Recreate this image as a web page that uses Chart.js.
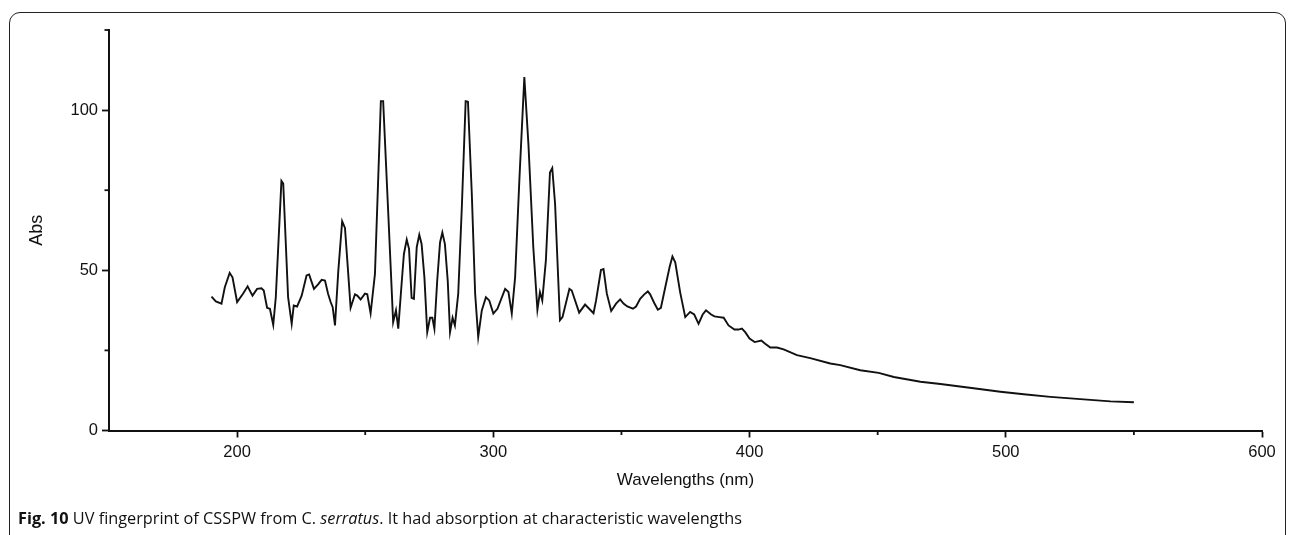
<!DOCTYPE html>
<html><head><meta charset="utf-8">
<script src="https://cdn.jsdelivr.net/npm/chart.js@4.4.1/dist/chart.umd.min.js"></script>
<style>
html,body{margin:0;padding:0;background:#fff;width:1292px;height:535px;overflow:hidden;}
#frame{position:absolute;left:9px;top:12px;width:1277px;height:570px;border:1.5px solid #222;border-radius:11px;box-sizing:border-box;}
#wrap{position:absolute;left:0;top:0;width:1292px;height:535px;}
#caption{position:absolute;left:18px;top:508px;font-family:"Open Sans",sans-serif;font-size:16.3px;color:#111;white-space:nowrap;line-height:21px;}
</style></head><body>
<div id="frame"></div>
<div id="wrap"><canvas id="c" width="1292" height="535"></canvas></div>
<div id="caption"><b>Fig. 10</b> UV fingerprint of CSSPW from C. <i>serratus</i>. It had absorption at characteristic wavelengths</div>
<script>
const wavelengths = [190.0,191.7,193.9,195.2,197.1,198.2,200.0,202.3,204.1,206.0,207.8,209.5,210.4,211.7,212.8,214.1,215.1,217.3,218.0,219.9,221.3,222.1,223.4,225.2,227.1,228.1,230.0,231.6,233.0,234.3,235.5,236.5,237.3,238.2,239.5,241.0,242.1,243.1,244.3,246.0,246.9,248.2,249.9,250.8,252.1,253.8,256.1,257.0,259.0,260.9,262.0,262.9,264.2,265.1,266.2,267.1,268.1,269.0,270.1,271.1,272.0,273.1,274.2,275.3,276.2,277.0,278.1,279.2,280.1,281.1,282.2,283.1,284.1,285.0,286.3,287.7,289.2,290.1,291.6,292.9,294.1,295.5,297.1,298.4,300.0,301.6,304.6,305.9,307.2,308.5,310.2,312.1,313.7,315.6,317.2,318.2,319.1,320.5,322.1,323.0,324.1,326.0,327.0,329.7,330.6,333.5,335.8,339.1,340.1,342.0,343.0,344.3,346.0,347.9,349.5,350.8,352.3,354.5,355.7,357.3,358.9,360.3,361.2,362.8,364.2,365.4,367.1,368.8,369.9,371.0,372.9,374.9,376.8,378.4,380.1,381.7,383.0,385.0,386.3,388.2,389.9,391.8,394.1,395.7,397.0,398.3,400.0,402.0,404.6,406.1,408.1,410.7,413.3,418.5,423.7,431.5,435.4,443.2,450.4,456.3,466.7,474.5,488.2,497.9,507.0,517.4,530.4,540.9,550.0];
const absorbance = [41.8,40.3,39.6,44.7,49.2,47.8,40.1,42.7,45.0,42.1,44.2,44.4,43.7,38.3,38.0,33.0,41.6,77.9,77.1,41.6,33.3,39.0,38.7,42.1,48.4,48.7,44.2,45.6,47.0,46.8,42.7,40.1,38.5,32.8,49.9,65.3,63.2,52.0,38.3,42.5,42.1,40.9,42.7,42.5,36.6,48.9,102.8,102.8,67.6,33.8,37.5,31.8,45.8,55.1,59.6,56.7,41.4,41.1,57.2,61.1,58.2,47.8,30.7,35.2,35.2,31.8,46.8,58.7,61.8,58.2,46.8,30.7,35.2,32.8,42.7,69.6,102.8,102.6,73.8,42.7,29.2,37.5,41.6,40.6,36.5,38.0,44.2,43.2,36.5,47.8,78.9,110.3,89.3,57.2,37.7,43.2,40.6,53.0,80.5,81.9,70.7,34.4,35.4,44.2,43.7,36.8,39.3,36.6,40.6,50.1,50.4,42.7,37.3,39.6,40.9,39.6,38.7,38.0,38.7,41.1,42.5,43.4,42.5,39.8,37.7,38.3,44.7,51.0,54.3,52.5,43.2,35.4,37.0,36.2,33.3,36.2,37.5,36.2,35.6,35.4,35.2,32.8,31.5,31.5,31.8,30.7,28.7,27.6,28.1,27.1,25.9,25.9,25.3,23.5,22.6,20.9,20.4,18.8,18.0,16.7,15.2,14.5,13.1,12.1,11.3,10.5,9.7,9.1,8.8];
const xTickLabels = [200,300,400,500,600];
const yTickLabels = [0,50,100];

const points = wavelengths.map((w,i)=>({x:w, y:absorbance[i]}));
const INK = '#111';
const tickFont = {family:'"Liberation Sans", Arial, sans-serif', size:16.5};
const titleFont = {family:'"Liberation Sans", Arial, sans-serif', size:17};

const minorTicks = {
  id:'minorTicks',
  afterDraw(chart){
    const {ctx, scales:{x,y}} = chart;
    ctx.save(); ctx.strokeStyle=INK; ctx.lineWidth=1.8;
    x.ticks.forEach(t=>{
      if(!xTickLabels.includes(t.value) && t.value!==x.min){
        const px=x.getPixelForValue(t.value);
        ctx.beginPath(); ctx.moveTo(px,x.top); ctx.lineTo(px,x.top+4.5); ctx.stroke();
      }
    });
    y.ticks.forEach(t=>{
      if(!yTickLabels.includes(t.value)){
        const py=y.getPixelForValue(t.value);
        ctx.beginPath(); ctx.moveTo(y.right,py); ctx.lineTo(y.right-4.5,py); ctx.stroke();
      }
    });
    ctx.restore();
  }
};

new Chart(document.getElementById('c'), {
  type:'line',
  data:{datasets:[{data:points, borderColor:INK, borderWidth:1.9, pointRadius:0, tension:0, fill:false}]},
  options:{
    responsive:false, animation:false,
    layout:{padding:{left:0,right:30,top:30,bottom:0}},
    plugins:{legend:{display:false}, tooltip:{enabled:false}},
    scales:{
      x:{type:'linear', min:150, max:600,
        ticks:{stepSize:50, autoSkip:false, maxRotation:0, padding:5, font:tickFont, color:INK,
          callback:v=> xTickLabels.includes(v) ? String(v) : ''},
        grid:{display:true, drawOnChartArea:false, drawTicks:true, tickLength:7, tickWidth:1.8,
          tickColor:c=> (c.tick && xTickLabels.includes(c.tick.value)) ? INK : 'rgba(0,0,0,0)'},
        border:{display:true, color:INK, width:2},
        title:{display:true, text:'Wavelengths (nm)', font:titleFont, color:INK, padding:{top:0,bottom:44}},
        afterFit:s=>{ s.height = 104.5; }
      },
      y:{type:'linear', min:0, max:125,
        ticks:{stepSize:25, autoSkip:false, padding:4, font:tickFont, color:INK,
          callback:v=> yTickLabels.includes(v) ? String(v) : ''},
        grid:{display:true, drawOnChartArea:false, drawTicks:true, tickLength:7, tickWidth:1.8,
          tickColor:c=> (c.tick && yTickLabels.includes(c.tick.value)) ? INK : 'rgba(0,0,0,0)'},
        border:{display:true, color:INK, width:2},
        title:{display:true, text:'Abs', font:{family:'"Liberation Sans", Arial, sans-serif', size:18}, color:INK, padding:{top:26,bottom:0}},
        afterFit:s=>{ s.width = 109; }
      }
    }
  },
  plugins:[minorTicks]
});
</script>
</body></html>
